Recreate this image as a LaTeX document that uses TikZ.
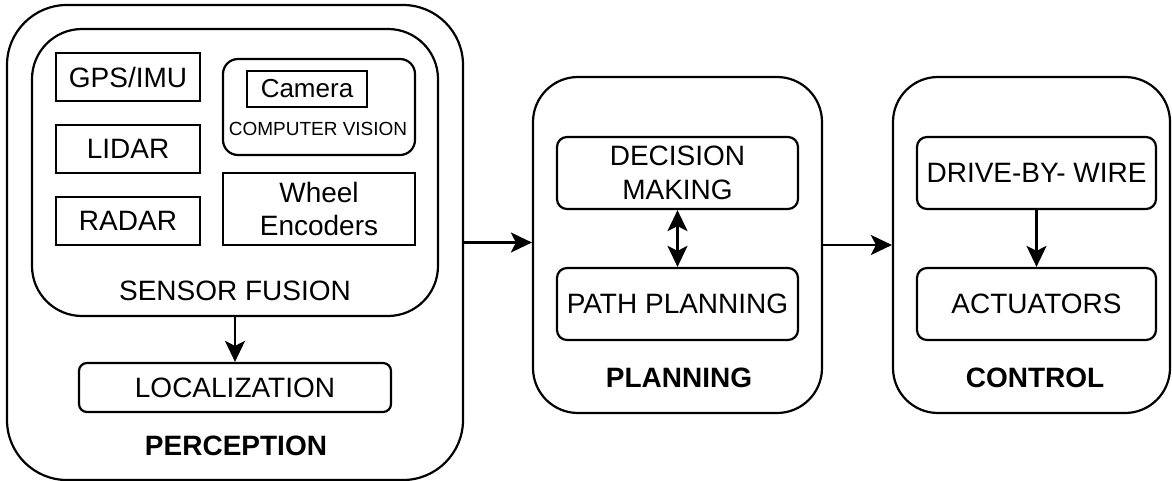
\documentclass[tikz,border=0pt]{standalone}
\usepackage{fontspec}
\setmainfont{Liberation Sans}
\usetikzlibrary{arrows.meta}

\begin{document}
\begin{tikzpicture}[x=1pt,y=-1pt,
  every node/.style={font=\fontsize{28}{33.6}\selectfont, align=center, inner sep=0pt},
  box/.style={draw, line width=2.2pt, rectangle},
  rbox/.style={box, rounded corners=#1},
  lbl/.style={font=\fontsize{28}{33.6}\selectfont\bfseries},
  arr/.style={line width=2.2pt, -{Stealth[length=21pt,width=20pt,inset=5pt]}},
  darr/.style={line width=2.2pt, {Stealth[length=21pt,width=20pt,inset=5pt]}-{Stealth[length=21pt,width=20pt,inset=5pt]}}]
\useasboundingbox (0,0) rectangle (1172,481);

% ---------- Perception ----------
\node[rbox=60pt, minimum width=456, minimum height=475] (perc) at (235,242.5) {};
\node[rbox=50pt, minimum width=406, minimum height=287] (fusion) at (235,172.5) {};
\node[box, minimum width=144, minimum height=48] (gps) at (128,77) {GPS/IMU};
\node[box, minimum width=144, minimum height=48] (lidar) at (128,149) {LIDAR};
\node[box, minimum width=144, minimum height=48] (radar) at (128,221) {RADAR};
\node[rbox=15pt, minimum width=192, minimum height=96] (cv) at (319,107) {};
\node[box, minimum width=120, minimum height=36, font=\fontsize{26}{31}\selectfont] (camera) at (307,89) {Camera};
\node[font=\fontsize{19}{23}\selectfont] (cvlbl) at (318,129) {COMPUTER VISION};
\node[box, minimum width=192, minimum height=72] (wheel) at (319,209) {Wheel\\Encoders};
\node (fuslbl) at (235,291) {SENSOR FUSION};
\node[rbox=8pt, minimum width=312, minimum height=49] (loc) at (235,387.5) {LOCALIZATION};
\node[lbl] (perclbl) at (236,446) {PERCEPTION};

% ---------- Planning ----------
\node[rbox=45pt, minimum width=289, minimum height=336] (plan) at (677.5,245) {};
\node[rbox=10pt, minimum width=241, minimum height=72] (dec) at (677.5,173) {DECISION\\MAKING};
\node[rbox=10pt, minimum width=241, minimum height=72] (path) at (677.5,304) {PATH PLANNING};
\node[lbl] (planlbl) at (679,378) {PLANNING};

% ---------- Control ----------
\node[rbox=45pt, minimum width=277, minimum height=336] (ctrl) at (1031.5,245) {};
\node[rbox=10pt, minimum width=239, minimum height=72] (dbw) at (1036.5,173) {DRIVE-BY- WIRE};
\node[rbox=10pt, minimum width=239, minimum height=72] (act) at (1036.5,304) {ACTUATORS};
\node[lbl] (ctrllbl) at (1035,378) {CONTROL};

% ---------- Connectors ----------
\draw[arr] (fusion.south) -- (loc.north);
\draw[arr] (perc.east) -- (perc.east -| plan.west);
\draw[arr] (plan.east) -- (plan.east -| ctrl.west);
\draw[darr] (dec.south) -- (path.north);
\draw[arr] (dbw.south) -- (act.north);
\end{tikzpicture}
\end{document}
